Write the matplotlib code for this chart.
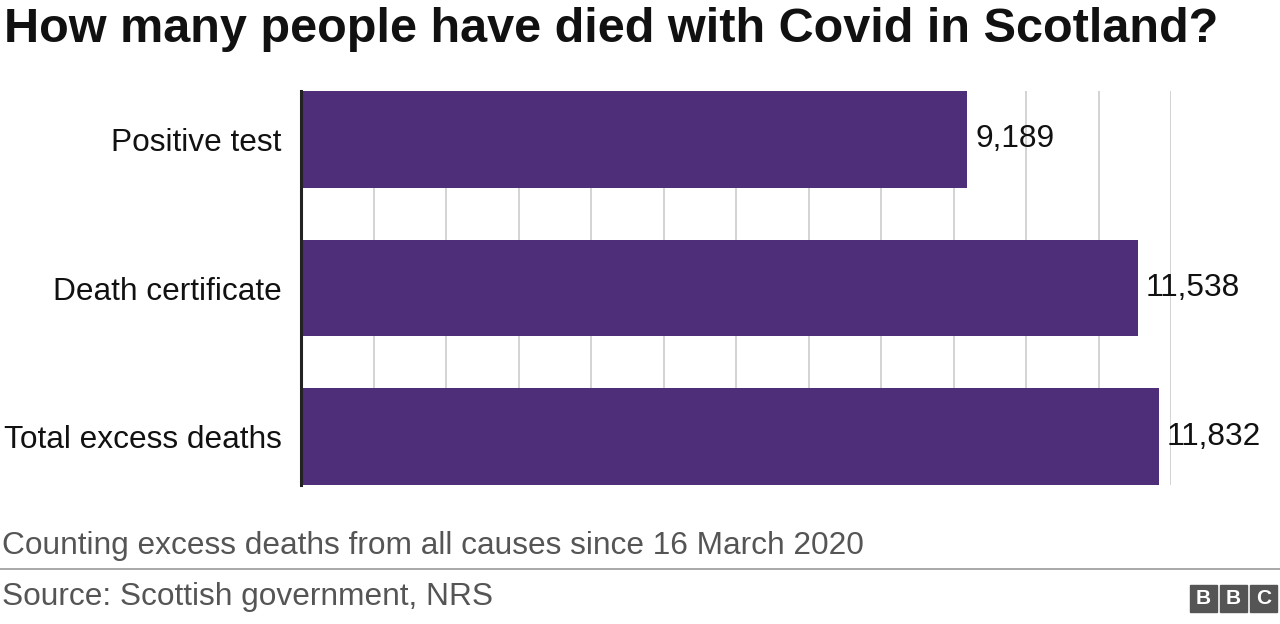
import matplotlib
matplotlib.use("Agg")
import matplotlib.pyplot as plt
from matplotlib.patches import Rectangle

categories = ["Positive test", "Death certificate", "Total excess deaths"]
values = [9189, 11538, 11832]
value_labels = ["9,189", "11,538", "11,832"]

plt.rcParams["font.family"] = "Liberation Sans"
W, H = 1280, 624
fig = plt.figure(figsize=(12.8, 6.24), dpi=100)
ax = fig.add_axes([301/W, 1-485/H, (1171-301)/W, (485-91)/H])
ypos = list(range(len(categories)))
ax.barh(ypos, values, height=0.65, color="#4e2d79", zorder=2)
ax.set_ylim(2.325, -0.325)
ax.set_xlim(0, 12000)
ax.set_xticks(range(0, 12001, 1000))
ax.grid(axis="x", color="#cccccc", lw=1.2, zorder=0)
ax.tick_params(axis="x", length=0, labelbottom=False)
ax.tick_params(axis="y", length=0, pad=14, labelsize=22.8, labelcolor="#111111")
ax.set_yticks(ypos)
ax.set_yticklabels(categories)
for s in ["top", "right", "bottom"]:
    ax.spines[s].set_visible(False)
ax.spines["left"].set_linewidth(2.2)
ax.spines["left"].set_color("#222222")
for y, v, l in zip(ypos, values, value_labels):
    ax.text(v + 110, y, l, va="center", ha="left", fontsize=22.8, color="#111111")

fig.text(4/W, 1-30/H, "How many people have died with Covid in Scotland?",
         fontsize=35, fontweight="bold", va="center", ha="left", color="#111111")
fig.text(2/W, 1-546/H, "Counting excess deaths from all causes since 16 March 2020",
         fontsize=22.8, va="center", ha="left", color="#555555")
fig.add_artist(plt.Line2D([0, 1], [1-569/H, 1-569/H], color="#999999", lw=1.2,
                          transform=fig.transFigure))
fig.text(2/W, 1-597/H, "Source: Scottish government, NRS",
         fontsize=22.8, va="center", ha="left", color="#555555")
for i, ch in enumerate("BBC"):
    x0 = 1190 + i*30
    fig.add_artist(Rectangle((x0/W, 1-612/H), 27/W, 27/H, transform=fig.transFigure,
                             color="#555555"))
    fig.text((x0+13.5)/W, 1-598.5/H, ch, fontsize=15, fontweight="bold",
             color="white", ha="center", va="center")
fig.savefig("out.png", dpi=100)
